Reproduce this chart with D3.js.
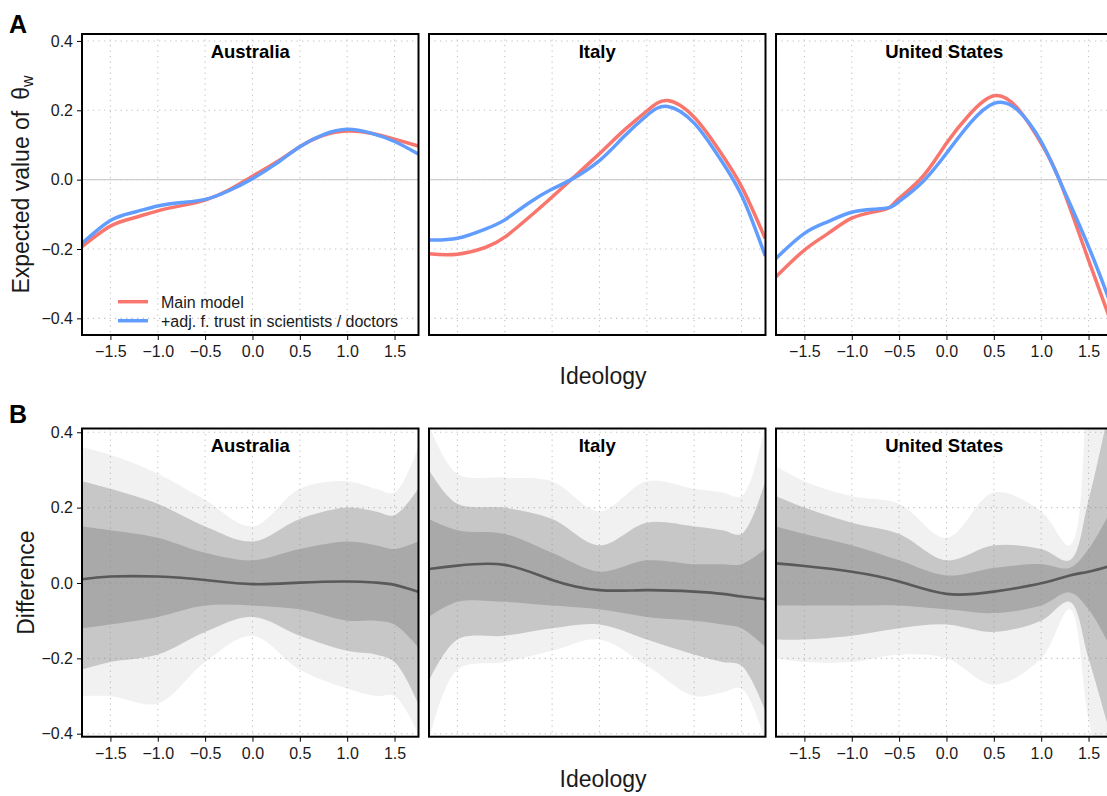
<!DOCTYPE html>
<html lang="en">
<head>
  <meta charset="utf-8">
  <title>ideology panels</title>
  <script src="https://cdn.jsdelivr.net/npm/d3@7/dist/d3.min.js"></script>
  <style>
    body { margin: 0; background: #fff; }
    svg text { font-family: "Liberation Sans", Arial, Helvetica, sans-serif; fill: #000; }
    .tick text { font-size: 16px; fill: #1a1a1a; }
    .tick line { stroke: #000; stroke-width: 1; }
    .stripTitle { font-size: 18.5px; font-weight: bold; text-anchor: middle; }
    .axisTitle { font-size: 23px; fill: #1a1a1a; }
    .panelTag { font-size: 25px; font-weight: bold; }
    .legendText { font-size: 16px; fill: #1a1a1a; }
  </style>
</head>
<body>
<script>
  // ---- data ----
  const countries = ["Australia", "Italy", "United States"];
  const xTicks = [-1.5, -1.0, -0.5, 0.0, 0.5, 1.0, 1.5];
  const yTicks = [-0.4, -0.2, 0.0, 0.2, 0.4];
  const legendLabels = ["Main model", "+adj. f. trust in scientists / doctors"];

  // panel A: expected value curves
  const ausX   = [-1.8, -1.5, -1.25, -1.0, -0.75, -0.5, -0.25, 0, 0.25, 0.5, 0.75, 1.0, 1.25, 1.5, 1.75];
  const ausMain = [-0.193, -0.134, -0.11, -0.09, -0.075, -0.059, -0.03, 0.01, 0.05, 0.095, 0.128, 0.14, 0.134, 0.117, 0.097];
  const ausAdj  = [-0.184, -0.118, -0.094, -0.076, -0.066, -0.057, -0.032, 0.003, 0.046, 0.095, 0.13, 0.145, 0.134, 0.11, 0.074];

  const itaX   = [-1.8, -1.5, -1.2, -1.0, -0.75, -0.5, -0.3, 0, 0.25, 0.5, 0.72, 1.0, 1.25, 1.5, 1.75];
  const itaMain = [-0.214, -0.215, -0.195, -0.166, -0.11, -0.05, 0, 0.075, 0.14, 0.198, 0.228, 0.18, 0.09, -0.02, -0.17];
  const itaAdj  = [-0.174, -0.169, -0.142, -0.116, -0.068, -0.027, 0, 0.055, 0.122, 0.185, 0.211, 0.163, 0.07, -0.045, -0.22];

  const usaX   = [-1.8, -1.5, -1.25, -1.0, -0.75, -0.6, -0.5, -0.25, 0, 0.25, 0.5, 0.75, 1.0, 1.2, 1.5, 1.75];
  const usaMain = [-0.28, -0.203, -0.155, -0.111, -0.092, -0.08, -0.054, 0.009, 0.105, 0.19, 0.242, 0.206, 0.105, -0.006, -0.232, -0.42];
  const usaAdj  = [-0.227, -0.155, -0.121, -0.094, -0.085, -0.08, -0.063, -0.006, 0.076, 0.163, 0.22, 0.201, 0.11, -0.006, -0.193, -0.37];

  // panel B: difference, mean line and envelopes of the simulated draws
  const diffX = [-1.8, -1.5, -1.0, -0.5, 0, 0.5, 1.0, 1.3, 1.5, 1.75];

  const ausMean    = [0.010, 0.017, 0.017, 0.008, -0.003, 0.001, 0.004, 0.001, -0.005, -0.023];
  const ausOuterHi = [0.36, 0.34, 0.29, 0.22, 0.15, 0.25, 0.27, 0.25, 0.24, 0.36];
  const ausOuterLo = [-0.30, -0.30, -0.32, -0.21, -0.14, -0.23, -0.28, -0.30, -0.30, -0.40];
  const ausMidHi   = [0.27, 0.25, 0.21, 0.15, 0.11, 0.17, 0.20, 0.19, 0.18, 0.25];
  const ausMidLo   = [-0.23, -0.21, -0.19, -0.13, -0.09, -0.14, -0.18, -0.19, -0.21, -0.32];
  const ausCoreHi  = [0.15, 0.14, 0.12, 0.08, 0.06, 0.09, 0.11, 0.10, 0.09, 0.11];
  const ausCoreLo  = [-0.12, -0.11, -0.09, -0.06, -0.06, -0.07, -0.10, -0.10, -0.11, -0.17];

  const itaMean    = [0.037, 0.046, 0.048, 0.008, -0.019, -0.019, -0.023, -0.029, -0.036, -0.043];
  const itaOuterHi = [0.42, 0.29, 0.28, 0.27, 0.19, 0.27, 0.25, 0.24, 0.23, 0.42];
  const itaOuterLo = [-0.42, -0.23, -0.21, -0.18, -0.15, -0.22, -0.30, -0.29, -0.28, -0.42];
  const itaMidHi   = [0.30, 0.21, 0.20, 0.17, 0.10, 0.16, 0.15, 0.14, 0.13, 0.27];
  const itaMidLo   = [-0.26, -0.15, -0.14, -0.12, -0.11, -0.15, -0.19, -0.21, -0.22, -0.34];
  const itaCoreHi  = [0.17, 0.14, 0.13, 0.08, 0.03, 0.06, 0.05, 0.05, 0.05, 0.09];
  const itaCoreLo  = [-0.09, -0.05, -0.05, -0.06, -0.07, -0.09, -0.10, -0.11, -0.12, -0.17];

  const usaMean    = [0.052, 0.045, 0.030, 0.004, -0.029, -0.023, -0.001, 0.020, 0.030, 0.047];
  const usaOuterHi = [0.31, 0.27, 0.23, 0.21, 0.12, 0.24, 0.19, 0.10, 0.55, 1.1];
  const usaOuterLo = [-0.20, -0.21, -0.21, -0.19, -0.20, -0.27, -0.20, -0.07, -0.36, -0.65];
  const usaMidHi   = [0.23, 0.20, 0.16, 0.13, 0.06, 0.10, 0.09, 0.06, 0.22, 0.50];
  const usaMidLo   = [-0.15, -0.15, -0.14, -0.12, -0.11, -0.13, -0.10, -0.05, -0.20, -0.42];
  const usaCoreHi  = [0.15, 0.13, 0.10, 0.06, 0.02, 0.04, 0.05, 0.04, 0.09, 0.20];
  const usaCoreLo  = [-0.06, -0.06, -0.06, -0.06, -0.07, -0.08, -0.06, -0.025, -0.07, -0.18];

  // ---- layout ----
  const width = 1107, height = 796;
  const panelLefts = [82, 429, 776], panelW = 336.5;
  const xDomain = [-1.8, 1.753];
  const rowA = { top: 34, bottom: 335, yDomain: [-0.448, 0.42] };
  const rowB = { top: 428.5, bottom: 736.7, yDomain: [-0.408, 0.41] };
  const colMain = "#F8766D", colAdj = "#619CFF";

  const svg = d3.select("body").append("svg").attr("width", width).attr("height", height);
  const fmt = d3.format(".1f");

  const xScale = d3.scaleLinear().domain(xDomain).range([0, panelW]);

  function zip(xs, ys) { return xs.map((x, i) => ({ x: x, y: ys[i] })); }

  function makePanel(row, i, id) {
    const h = row.bottom - row.top;
    const y = d3.scaleLinear().domain(row.yDomain).range([h, 0]);
    const g = svg.append("g").attr("transform", `translate(${panelLefts[i]},${row.top})`);
    g.append("clipPath").attr("id", id).append("rect").attr("width", panelW).attr("height", h);

    // dotted grid
    const grid = g.append("g").attr("clip-path", `url(#${id})`)
      .attr("stroke", "#c4c4c4").attr("stroke-width", 1.1).attr("stroke-dasharray", "1.3,4.2");
    grid.selectAll("line.gx").data(xTicks).join("line")
      .attr("x1", d => xScale(d)).attr("x2", d => xScale(d)).attr("y1", 0).attr("y2", h);
    grid.selectAll("line.gy").data(yTicks).join("line")
      .attr("y1", d => y(d)).attr("y2", d => y(d)).attr("x1", 0).attr("x2", panelW);

    const plot = g.append("g").attr("clip-path", `url(#${id})`);

    // axes
    if (i === 0) {
      const ya = g.append("g").call(d3.axisLeft(y).tickValues(yTicks).tickFormat(fmt).tickSize(5).tickPadding(4));
      ya.select(".domain").remove();
    }
    if (i !== 1) {
      const xa = g.append("g").attr("transform", `translate(0,${h})`)
        .call(d3.axisBottom(xScale).tickValues(xTicks).tickFormat(fmt).tickSize(5).tickPadding(6));
      xa.select(".domain").remove();
    }
    return { g, plot, y, h };
  }

  function finishPanel(p, name) {
    p.g.append("rect").attr("width", panelW).attr("height", p.h)
      .attr("fill", "none").attr("stroke", "#000").attr("stroke-width", 2);
    p.g.append("text").attr("class", "stripTitle")
      .attr("x", panelW / 2).attr("y", 23.5).text(name);
  }

  // ---- row A ----
  const rowAData = [[ausX, ausMain, ausAdj], [itaX, itaMain, itaAdj], [usaX, usaMain, usaAdj]];
  rowAData.forEach((d, i) => {
    const p = makePanel(rowA, i, "clipA" + i);
    p.plot.append("line").attr("x1", 0).attr("x2", panelW)
      .attr("y1", p.y(0)).attr("y2", p.y(0))
      .attr("stroke", "#cfcfcf").attr("stroke-width", 1.4);
    const line = d3.line().x(e => xScale(e.x)).y(e => p.y(e.y)).curve(d3.curveNatural);
    p.plot.append("path").attr("d", line(zip(d[0], d[1])))
      .attr("fill", "none").attr("stroke", colMain).attr("stroke-width", 3.5);
    p.plot.append("path").attr("d", line(zip(d[0], d[2])))
      .attr("fill", "none").attr("stroke", colAdj).attr("stroke-width", 3.5);
    finishPanel(p, countries[i]);

    if (i === 0) {
      const lg = p.g.append("g");
      [colMain, colAdj].forEach((c, k) => {
        const ly = 267.7 + k * 19;
        lg.append("line").attr("x1", 36).attr("x2", 66).attr("y1", ly).attr("y2", ly)
          .attr("stroke", c).attr("stroke-width", 3.5);
        lg.append("text").attr("class", "legendText").attr("x", 79).attr("y", ly + 6).text(legendLabels[k]);
      });
    }
  });

  // ---- row B ----
  const rowBData = [
    [ausMean, ausOuterLo, ausOuterHi, ausMidLo, ausMidHi, ausCoreLo, ausCoreHi],
    [itaMean, itaOuterLo, itaOuterHi, itaMidLo, itaMidHi, itaCoreLo, itaCoreHi],
    [usaMean, usaOuterLo, usaOuterHi, usaMidLo, usaMidHi, usaCoreLo, usaCoreHi]
  ];
  rowBData.forEach((d, i) => {
    const p = makePanel(rowB, i, "clipB" + i);
    const area = d3.area().x((e, k) => xScale(diffX[k]))
      .y0(e => p.y(e[0])).y1(e => p.y(e[1])).curve(d3.curveCatmullRom.alpha(0.5));
    const bands = [[d[1], d[2], 0.12], [d[3], d[4], 0.42], [d[5], d[6], 0.5]];
    bands.forEach(b => {
      p.plot.append("path").attr("d", area(diffX.map((x, k) => [b[0][k], b[1][k]])))
        .attr("fill", "#8c8c8c").attr("fill-opacity", b[2]);
    });
    const line = d3.line().x(e => xScale(e.x)).y(e => p.y(e.y)).curve(d3.curveNatural);
    p.plot.append("path").attr("d", line(zip(diffX, d[0])))
      .attr("fill", "none").attr("stroke", "#595959").attr("stroke-width", 2.6);
    finishPanel(p, countries[i]);
  });

  // ---- titles ----
  svg.append("text").attr("class", "panelTag").attr("x", 9).attr("y", 33).text("A");
  svg.append("text").attr("class", "panelTag").attr("x", 9).attr("y", 423).text("B");

  svg.append("text").attr("class", "axisTitle").attr("text-anchor", "middle")
    .attr("x", 603).attr("y", 384).text("Ideology");
  svg.append("text").attr("class", "axisTitle").attr("text-anchor", "middle")
    .attr("x", 603).attr("y", 787).text("Ideology");

  const yt = svg.append("text").attr("class", "axisTitle").attr("text-anchor", "middle")
    .attr("transform", `translate(29,${(rowA.top + rowA.bottom) / 2}) rotate(-90)`);
  yt.append("tspan").text("Expected value of \u2009\u03B8");
  yt.append("tspan").attr("dy", 4).style("font-size", "16px").text("w");

  svg.append("text").attr("class", "axisTitle").attr("text-anchor", "middle")
    .attr("transform", `translate(34,${(rowB.top + rowB.bottom) / 2}) rotate(-90)`)
    .text("Difference");
</script>
</body>
</html>
